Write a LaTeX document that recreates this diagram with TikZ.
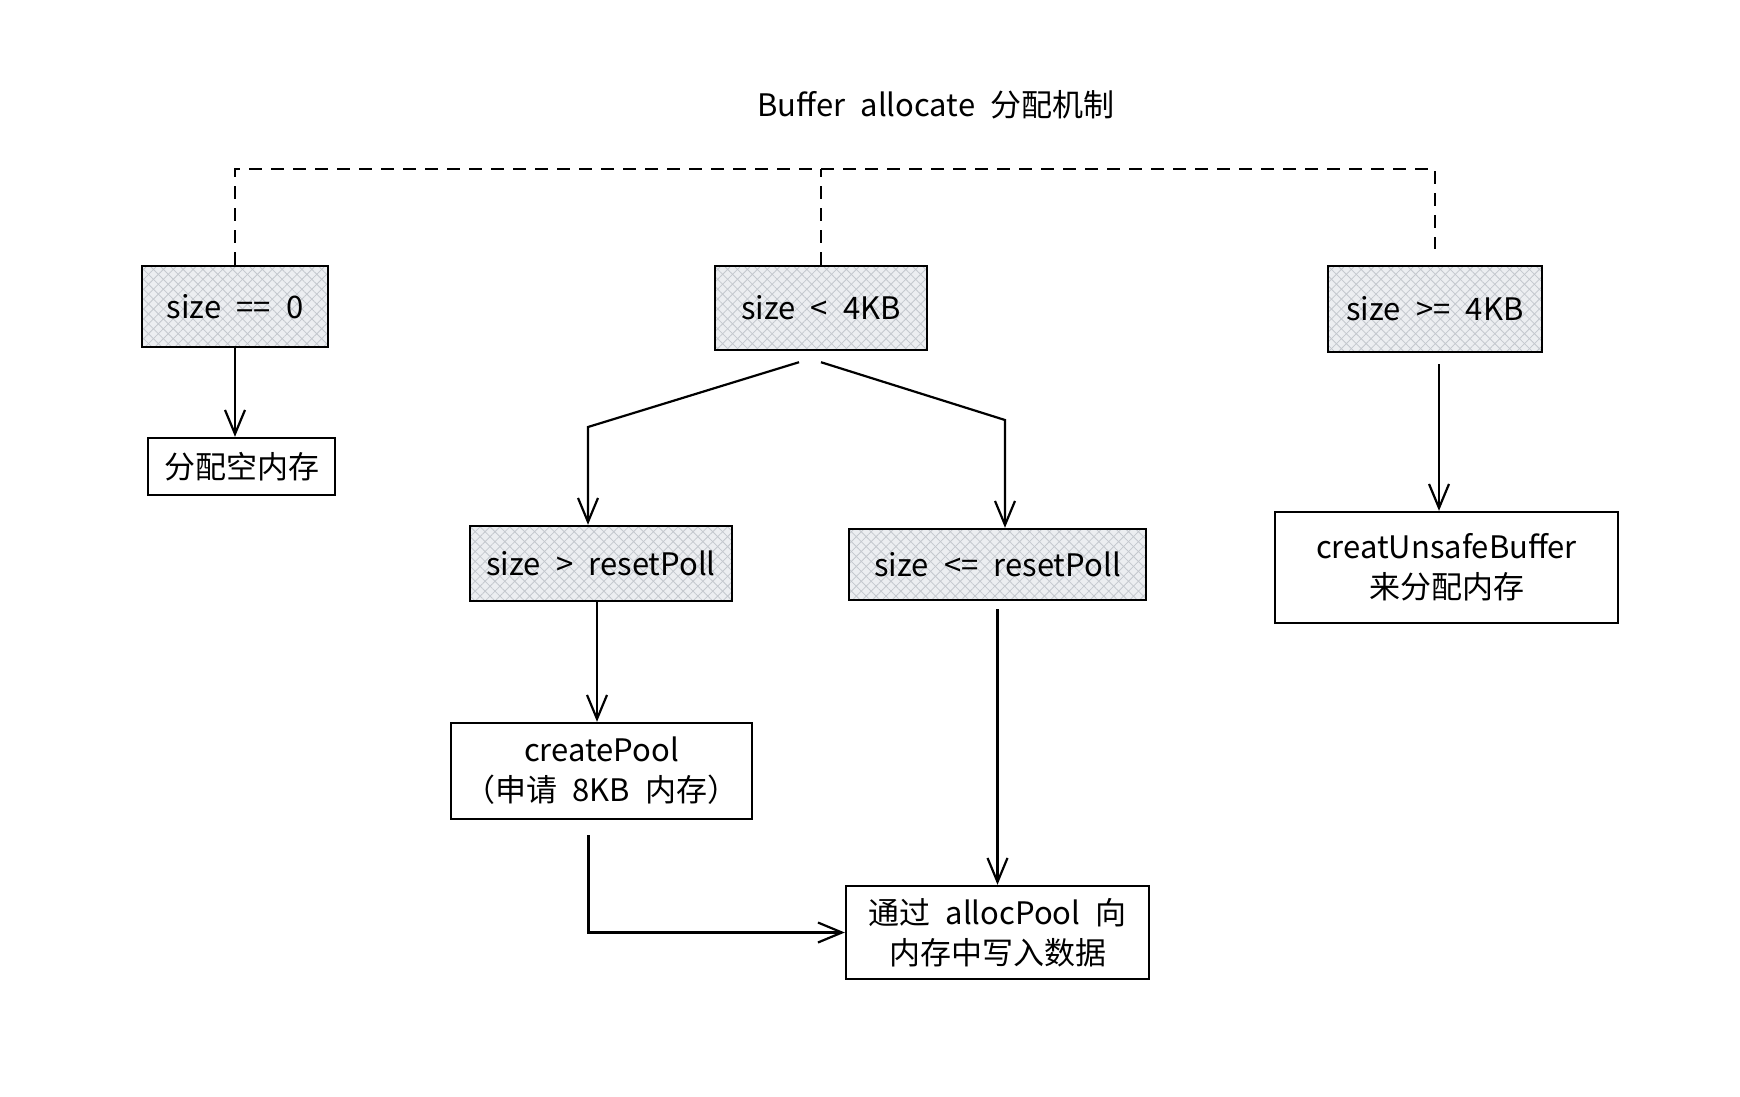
\documentclass[tikz,border=0pt]{standalone}
\usepackage{fontspec}
\setmainfont{Noto Sans CJK SC}[WordSpace=2.2]
\usetikzlibrary{arrows.meta,patterns.meta}
\definecolor{hatchbg}{RGB}{236,238,241}
\definecolor{hatch}{RGB}{196,200,206}
\begin{document}
\begin{tikzpicture}[x=1pt,y=-1pt, font=\fontsize{31}{40}\selectfont, line width=2.4pt,
  box/.style={draw=black, rectangle, inner sep=0pt, align=center, line width=2.4pt},
  cond/.style={box, preaction={fill=hatchbg},
    preaction={pattern={Lines[angle=45,distance=7pt,line width=0.8pt]}, pattern color=hatch},
    preaction={pattern={Lines[angle=-45,distance=7pt,line width=0.8pt]}, pattern color=hatch}},
  arr/.style={-{Straight Barb[length=24pt,width=20pt,line width=2.2pt]}, line width=2.2pt},
  tree/.style={dash pattern=on 13pt off 9pt, line width=2pt}]
\useasboundingbox (0,0) rectangle (1740,1096);
% title
\node (title) at (936,105) {Buffer allocate 分配机制};
% nodes
\node[cond, minimum width=186pt, minimum height=81pt] (a) at (235,306.5) {size == 0};
\node[box, minimum width=187pt, minimum height=57pt] (a1) at (241.5,466.5) {分配空内存};
\node[cond, minimum width=212pt, minimum height=84pt] (b) at (821,308) {size < 4KB};
\node[cond, minimum width=214pt, minimum height=86pt] (c) at (1435,309) {size >= 4KB};
\node[box, minimum width=343pt, minimum height=111pt] (c1) at (1446.5,567.5) {creatUnsafeBuffer\\来分配内存};
\node[cond, minimum width=262pt, minimum height=75pt] (b1) at (601,563.5) {size > resetPoll};
\node[cond, minimum width=297pt, minimum height=71pt] (b2) at (997.5,564.5) {size <= resetPoll};
\node[box, minimum width=301pt, minimum height=96pt] (b1a) at (601.5,771) {createPool\\（申请 8KB 内存）};
\node[box, minimum width=303pt, minimum height=93pt] (d) at (997.5,932.5) {通过 allocPool 向\\内存中写入数据};
% dashed tree
\coordinate (bar) at (821,169);
\draw[tree] (a.north) |- (bar) -| ([yshift=16pt]c.north);
\draw[tree] (b.north) -- (bar);
% connectors
\draw[arr] (a.south) -- (a.south |- a1.north);
\coordinate (bl) at (588,427);
\coordinate (br) at (1005,420);
\draw[arr] ([xshift=-22pt,yshift=-11pt]b.south) -- (bl) -- (bl |- b1.north);
\draw[arr] ([yshift=-11pt]b.south) -- (br) -- (br |- b2.north);
\draw[arr] ([xshift=4pt,yshift=-11pt]c.south) -- ([xshift=4pt]c.south |- c1.north);
\draw[arr] ([xshift=-4pt]b1.south) -- ([xshift=-4pt]b1.south |- b1a.north);
\draw[arr] ([yshift=-8pt]b2.south) -- (b2.south |- d.north);
\draw[arr] ([xshift=-13pt,yshift=-15pt]b1a.south) |- (d.west);
\end{tikzpicture}
\end{document}
